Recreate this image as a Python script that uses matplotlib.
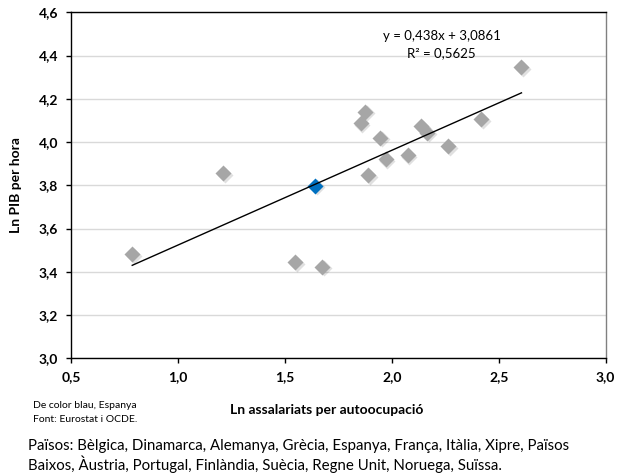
import matplotlib
matplotlib.use("Agg")
from matplotlib import pyplot as plt
from matplotlib.transforms import offset_copy
import numpy as np

plt.rcParams['font.family'] = ['Lato', 'DejaVu Sans']

# data (ln values)
assalariats = [0.785, 1.209, 1.547, 1.675, 1.889, 1.971, 1.946, 1.853,
               1.876, 2.073, 2.138, 2.166, 2.264, 2.417, 2.606]
pib_hora = [3.481, 3.857, 3.444, 3.424, 3.848, 3.920, 4.020, 4.087,
            4.141, 3.939, 4.074, 4.043, 3.982, 4.105, 4.346]
espanya_x = [1.641]
espanya_y = [3.798]

slope = 0.438
intercept = 3.0861
equation = "y = 0,438x + 3,0861"
r2_text = "R² = 0,5625"

x_ticks = [0.5, 1.0, 1.5, 2.0, 2.5, 3.0]
y_ticks = [3.0, 3.2, 3.4, 3.6, 3.8, 4.0, 4.2, 4.4, 4.6]

W, H = 619, 474
fig = plt.figure(figsize=(W / 100, H / 100), dpi=100)
ax = fig.add_axes([71.3 / W, 1 - 358.3 / H, (605.7 - 71.3) / W, (358.3 - 12.3) / H])

# grid
ax.set_axisbelow(True)
ax.yaxis.grid(True, color='#d9d9d9', linewidth=1.0)

# shadows then markers
all_x = np.array(assalariats + espanya_x)
all_y = np.array(pib_hora + espanya_y)
shadow = offset_copy(ax.transData, fig=fig, x=1.2, y=-1.2, units='points')
ax.plot(all_x, all_y, 'D', ms=8.5, color='#000000', alpha=0.12, mec='none',
        transform=shadow, zorder=2)
ax.plot(assalariats, pib_hora, 'D', ms=8.5, color='#a6a6a6', mec='none', zorder=3)
ax.plot(espanya_x, espanya_y, 'D', ms=8.5, color='#0070c0', mec='none', zorder=3)

# trend line
xs = np.array([all_x.min(), all_x.max()])
ax.plot(xs, slope * xs + intercept, color='black', linewidth=1.0, zorder=4)

ax.set_xlim(0.5, 3.0)
ax.set_ylim(3.0, 4.6)
ax.set_xticks(x_ticks)
ax.set_yticks(y_ticks)
ax.set_xticklabels([f"{v:.1f}".replace('.', ',') for v in x_ticks], fontweight='bold', fontsize=10)
ax.set_yticklabels([f"{v:.1f}".replace('.', ',') for v in y_ticks], fontweight='bold', fontsize=10)
ax.tick_params(direction='out', length=3.5, width=1, color='black', pad=6)

for side in ['left', 'bottom', 'top']:
    ax.spines[side].set_color('black')
    ax.spines[side].set_linewidth(1.0)
ax.spines['right'].set_color('#808080')
ax.spines['right'].set_linewidth(1.0)

ax.text(441.7 / W, 1 - 36 / H, equation, transform=fig.transFigure,
        ha='center', va='center', fontsize=9.5)
ax.text(441.7 / W, 1 - 53 / H, r2_text, transform=fig.transFigure,
        ha='center', va='center', fontsize=9.5)

fig.text(16 / W, 1 - 185 / H, "Ln PIB per hora", rotation=90, ha='center', va='center',
         fontweight='bold', fontsize=10)
fig.text(327 / W, 1 - 410 / H, "Ln assalariats per autoocupació", ha='center', va='center',
         fontweight='bold', fontsize=10)
fig.text(33 / W, 1 - 405 / H, "De color blau, Espanya", ha='left', va='center', fontsize=7.5)
fig.text(33 / W, 1 - 420 / H, "Font: Eurostat i OCDE.", ha='left', va='center', fontsize=7.5)
fig.text(28 / W, 1 - 446 / H,
         "Països: Bèlgica, Dinamarca, Alemanya, Grècia, Espanya, França, Itàlia, Xipre, Països",
         ha='left', va='center', fontsize=10.8)
fig.text(28 / W, 1 - 464 / H,
         "Baixos, Àustria, Portugal, Finlàndia, Suècia, Regne Unit, Noruega, Suïssa.",
         ha='left', va='center', fontsize=10.8)

fig.savefig("out.png", dpi=100)
